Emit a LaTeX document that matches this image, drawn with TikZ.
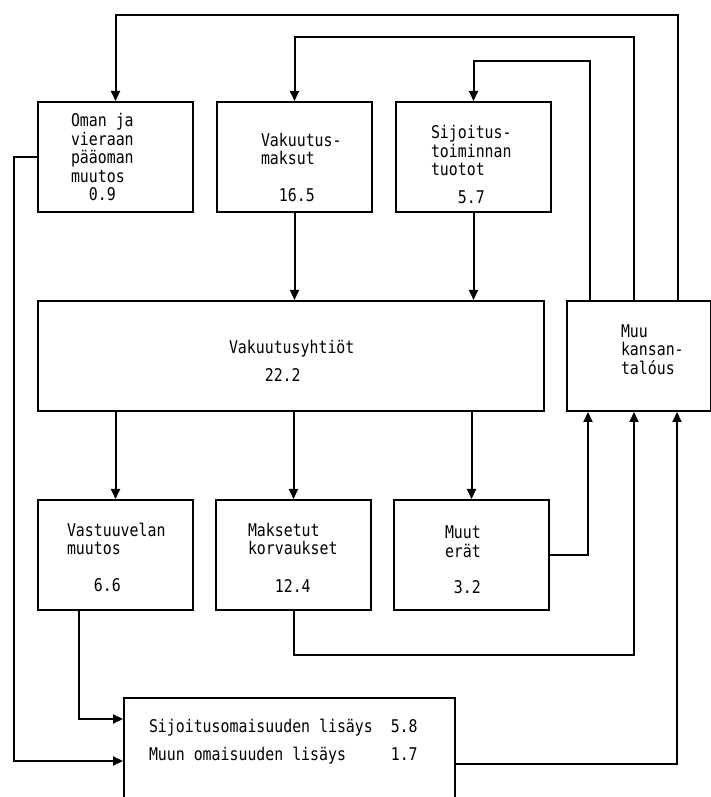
\documentclass[tikz,border=0pt]{standalone}
\usepackage{fontspec}
\newfontfamily\typew{DejaVu Sans Mono}[FakeStretch=0.85]
\usetikzlibrary{positioning,arrows.meta}

\begin{document}
\begin{tikzpicture}[x=1pt,y=1pt,line width=2pt]
\tikzset{fbox/.style={draw,minimum width=155pt,minimum height=110pt,inner sep=0pt},
  ftxt/.style={align=left,inner sep=0pt,font=\typew\fontsize{17.5}{18.5}\selectfont},
  flow/.style={-{Triangle[length=10pt,width=9pt]}}}
\useasboundingbox (0,0) rectangle (710,797);
% upper row
\node[fbox,anchor=north west] (oman) at (37,696) {};
\node[fbox,right=22pt of oman] (maksut) {};
\node[fbox,right=22pt of maksut] (sijtuot) {};
% companies and the rest of the economy
\node[fbox,minimum width=506pt,below right=87pt and 0pt of oman.south west] (yhtiot) {};
\node[fbox,minimum width=144pt,right=21pt of yhtiot] (muukt) {};
% lower row
\node[fbox,below right=87pt and 0pt of yhtiot.south west] (vastuu) {};
\node[fbox,right=21pt of vastuu] (korv) {};
\node[fbox,right=21pt of korv] (muuterat) {};
\node[fbox,minimum width=331pt,below right=86pt and 86pt of vastuu.south west] (lisays) {};
% texts
\node[ftxt,right=33pt of oman.west] (oman-t) {Oman ja\\vieraan\\pääoman\\muutos\\~~0.9};
\node[ftxt,right=44pt of maksut.west,yshift=-10.5pt] (maksut-t) {Vakuutus-\\maksut\\[18.5pt]~~16.5};
\node[ftxt,right=35pt of sijtuot.west,yshift=-7.5pt] (sijtuot-t) {Sijoitus-\\toiminnan\\tuotot\\[9pt]~~~5.7};
\node[ftxt,right=191pt of yhtiot.west,yshift=-4.5pt] (yhtiot-t) {Vakuutusyhtiöt\\[9.5pt]~~~~22.2};
\node[ftxt,right=54pt of muukt.west,yshift=6.5pt] (muukt-t) {Muu\\kansan-\\talóus};
\node[ftxt,right=29pt of vastuu.west,yshift=-2pt] (vastuu-t) {Vastuuvelan\\muutos\\[18pt]~~~6.6};
\node[ftxt,right=32pt of korv.west,yshift=-2.5pt] (korv-t) {Maksetut\\korvaukset\\[19pt]~~~12.4};
\node[ftxt,right=51pt of muuterat.west,yshift=-5pt] (muuterat-t) {Muut\\erät\\[18pt]~3.2};
\node[ftxt,right=25pt of lisays.west,yshift=11pt] (lisays-t) {Sijoitusomaisuuden lisäys~~5.8\\[9.5pt]Muun omaisuuden lisäys~~~~~1.7};
% attachment points on Muu kansantalous
\coordinate (m1) at ([xshift=24pt]muukt.north west);
\coordinate (m2) at ([xshift=68pt]muukt.north west);
\coordinate (m3) at ([xshift=112pt]muukt.north west);
\coordinate (r1) at ([xshift=22pt]muukt.south west);
\coordinate (r2) at ([xshift=68pt]muukt.south west);
\coordinate (r3) at ([xshift=111pt]muukt.south west);
% flows back to the top row
\draw[flow] (m3) |- ([yshift=86pt]oman.north) -- (oman.north);
\draw[flow] (m2) |- ([yshift=64pt]maksut.north) -- (maksut.north);
\draw[flow] (m1) |- ([yshift=40pt]sijtuot.north) -- (sijtuot.north);
% into and out of the companies
\draw[flow] (maksut.south) -- (maksut.south |- yhtiot.north);
\draw[flow] (sijtuot.south) -- (sijtuot.south |- yhtiot.north);
\draw[flow] (vastuu.north |- yhtiot.south) -- (vastuu.north);
\draw[flow] (korv.north |- yhtiot.south) -- (korv.north);
\draw[flow] (muuterat.north |- yhtiot.south) -- (muuterat.north);
% to the rest of the economy
\draw[flow] (muuterat.east) -| (r1);
\draw[flow] (korv.south) -- ++(0,-44pt) -| (r2);
\draw[flow] ([yshift=-67pt]lisays.north east) -| (r3);
% into the asset box
\draw[flow] ([xshift=42pt]vastuu.south west) |- ([yshift=-22pt]lisays.north west);
\draw[flow] (oman.west) -- ++(-23pt,0) |- ([yshift=-64pt]lisays.north west);
\end{tikzpicture}
\end{document}
